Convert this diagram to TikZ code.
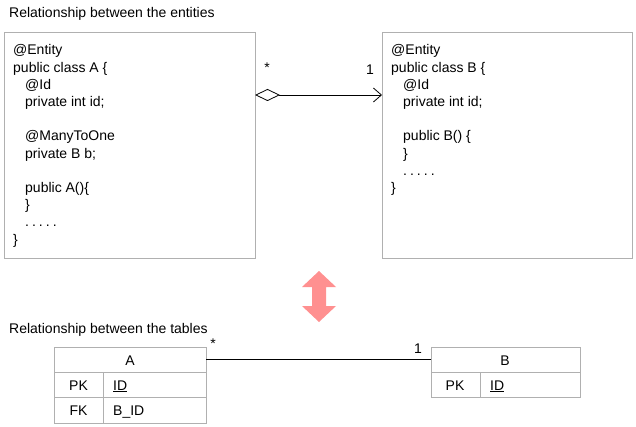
\documentclass[tikz,border=0pt]{standalone}
\usepackage{fontspec}
\setmainfont{Liberation Sans}
\usetikzlibrary{arrows.meta,shapes.geometric}
\definecolor{bgray}{HTML}{B0B0B0}
\definecolor{pinkar}{HTML}{FF9090}
\newcommand{\mydots}{.\hspace{3pt}.\hspace{3pt}.\hspace{3pt}.\hspace{3pt}.}
\begin{document}
\begin{tikzpicture}[x=1pt,y=-1pt,
  txt/.style={font=\fontsize{14}{16}\selectfont,inner sep=0pt,anchor=base west},
  ctxt/.style={font=\fontsize{14}{16}\selectfont,inner sep=0pt,anchor=base},
  gbox/.style={draw=bgray,line width=1pt}]
\useasboundingbox (0,0) rectangle (636,427);
\node[txt] (t1) at (9,18) {Relationship between the entities};
\node[txt] (t2) at (9,333) {Relationship between the tables};
% class boxes
\node[gbox,minimum width=251,minimum height=226,anchor=north west,inner sep=0pt] (A) at (4,32) {};
\node[gbox,minimum width=250,minimum height=226,anchor=north west,inner sep=0pt] (B) at (382,32) {};
\foreach \t [count=\i] in {@Entity,public class A \{,\hspace{12pt}@Id,\hspace{12pt}private int id;,,\hspace{12pt}@ManyToOne,\hspace{12pt}private B b;,,\hspace{12pt}public A()\{,\hspace{12pt}\},\hspace{12pt}\mydots,\}}
  \node[txt] at (13,{55+(\i-1)*17.2}) {\t};
\foreach \t [count=\i] in {@Entity,public class B \{,\hspace{12pt}@Id,\hspace{12pt}private int id;,,\hspace{12pt}public B() \{,\hspace{12pt}\},\hspace{12pt}\mydots,\}}
  \node[txt] at (391,{55+(\i-1)*17.2}) {\t};
\coordinate (ca) at (255,95);
\coordinate (cb) at (382,95);
\draw[line width=0.8pt,{Diamond[open,length=25pt,width=12pt]}-{Straight Barb[length=8pt,width=14pt]}] (ca) -- (cb);
\node[ctxt] (m1) at (267,73) {*};
\node[ctxt] (m2) at (370,75) {1};
% double arrow
\fill[pinkar] (302,287) -- (319,271) -- (336,287) -- (326,287) -- (326,306) -- (336,306) -- (319,322) -- (302,306) -- (312,306) -- (312,287) -- cycle;
% tables
\draw[gbox] (54,347) rectangle (206,423);
\draw[gbox] (54,372) -- (206,372) (54,397) -- (206,397) (103,372) -- (103,423);
\draw[gbox] (431,347) rectangle (580,397);
\draw[gbox] (431,372) -- (580,372) (480,372) -- (480,397);
\node[ctxt] (ta) at (130,365) {A};
\node[ctxt] (pka) at (78.5,390) {PK};
\node[txt] (ida) at (113,390) {\underline{ID}};
\node[ctxt] (fka) at (78.5,415) {FK};
\node[txt] (bid) at (113,415) {B\_ID};
\node[ctxt] (tb) at (505,365) {B};
\node[ctxt] (pkb) at (455,390) {PK};
\node[txt] (idb) at (490,390) {\underline{ID}};
\coordinate (la) at (206,359);
\coordinate (lb) at (431,359);
\draw[line width=0.8pt] (la) -- (lb);
\node[ctxt] (m3) at (213,348) {*};
\node[ctxt] (m4) at (418,353) {1};
\end{tikzpicture}
\end{document}
